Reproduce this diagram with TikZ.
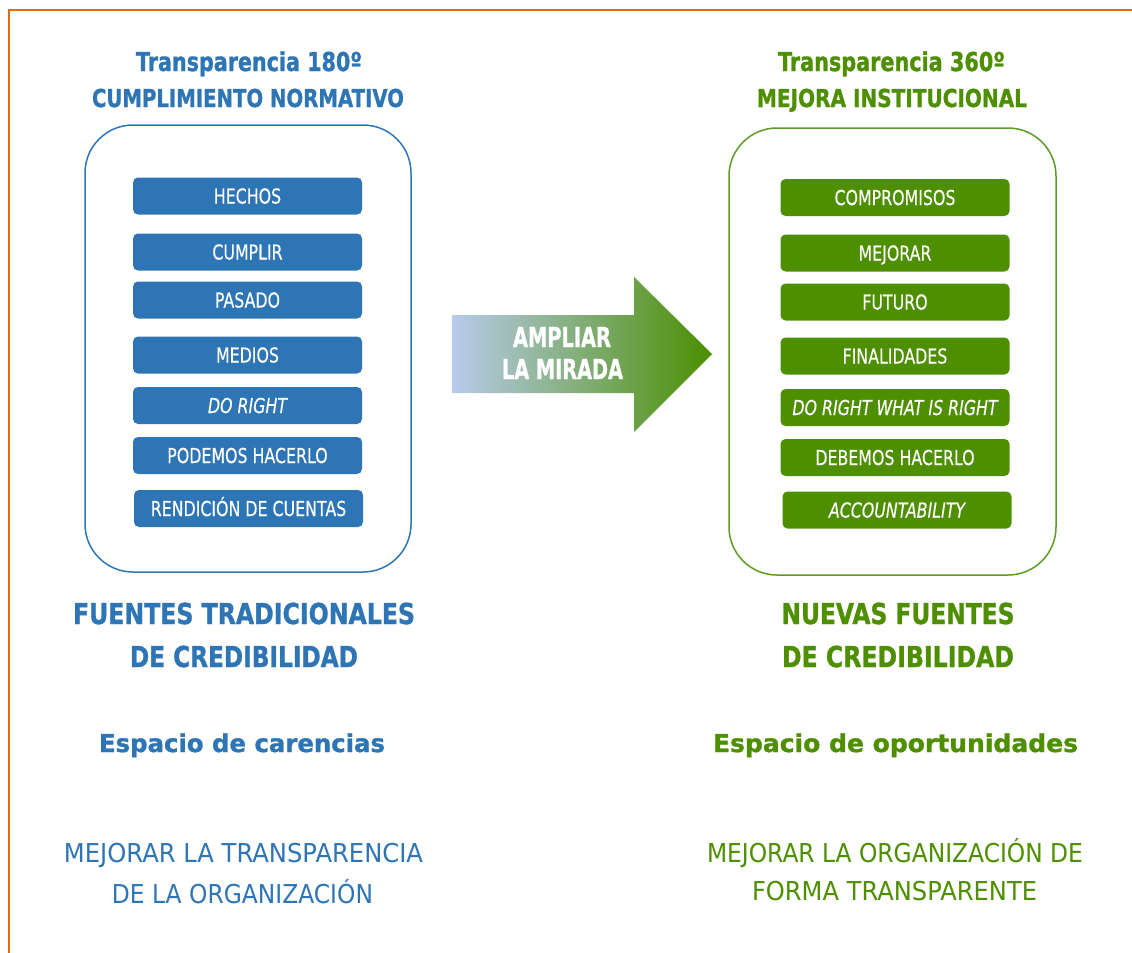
\documentclass[tikz,border=0pt]{standalone}
\usepackage{fontspec}
\setmainfont{DejaVu Sans}[BoldFeatures={FakeBold=1.2}]
\newfontfamily\boxfont{DejaVu Sans}[FakeBold=0.4]
\usepackage{graphicx}
\newdimen\px \px=0.75pt
\definecolor{cblue}{HTML}{2E75B6}
\definecolor{cgreen}{HTML}{4E8F00}
\definecolor{cgreenline}{HTML}{5E9B26}
\definecolor{corange}{HTML}{E36C09}
\definecolor{arrL}{HTML}{B8CBEC}
\definecolor{arrM}{HTML}{82A98A}
\definecolor{arrR}{HTML}{4A8F00}
\newcommand{\fw}[3]{\resizebox{#1\px}{\height}{\fontsize{#2}{#2}\selectfont #3}}
\newcommand{\bxt}[1]{\scalebox{0.77}[1]{\boxfont\fontsize{15.4}{16}\selectfont #1}}
\tikzset{
  itembox/.style={rounded corners=5\px, minimum width=229\px, minimum height=37\px,
    inner sep=0pt, text height=11.25pt, text depth=0pt, text=white},
  bluebox/.style={itembox, fill=cblue},
  greenbox/.style={itembox, fill=cgreen},
  panel/.style={rounded corners=48\px, line width=1.5\px},
  txt/.style={anchor=base, inner sep=0pt}
}
\begin{document}
\begin{tikzpicture}[x=0.75pt,y=-0.75pt]
\useasboundingbox (0,0) rectangle (1132,953);
\fill[white] (0,0) rectangle (1132,953);
% frame
\draw[corange, line width=2.6\px] (9,953) -- (9,10) -- (1132,10);

% titles
\node[txt, text=cblue] (t1a) at (249,71) {\fw{226}{19.5}{\bfseries Transparencia 180º}};
\node[txt, text=cblue] (t1b) at (248,107) {\fw{312}{18.5}{\bfseries CUMPLIMIENTO NORMATIVO}};
\node[txt, text=cgreen] (t2a) at (891.5,71) {\fw{227}{19.5}{\bfseries Transparencia 360º}};
\node[txt, text=cgreen] (t2b) at (892,107) {\fw{270}{18.5}{\bfseries MEJORA INSTITUCIONAL}};

% panels
\draw[panel, cblue] (85,125) rectangle (411,572);
\draw[panel, cgreenline] (729,128) rectangle (1056,575);

% blue boxes
\node[bluebox] (b1) at (247.5,196) {\bxt{HECHOS}};
\node[bluebox] (b2) at (247.5,252) {\bxt{CUMPLIR}};
\node[bluebox] (b3) at (247.5,300) {\bxt{PASADO}};
\node[bluebox] (b4) at (247.5,355) {\bxt{MEDIOS}};
\node[bluebox] (b5) at (247.5,405.5) {\bxt{\itshape DO RIGHT}};
\node[bluebox] (b6) at (247.5,455.5) {\bxt{PODEMOS HACERLO}};
\node[bluebox] (b7) at (248.5,508.5) {\bxt{RENDICIÓN DE CUENTAS}};

% green boxes
\node[greenbox] (g1) at (895,197.5) {\bxt{COMPROMISOS}};
\node[greenbox] (g2) at (895,253) {\bxt{MEJORAR}};
\node[greenbox] (g3) at (895,302) {\bxt{FUTURO}};
\node[greenbox] (g4) at (895,356) {\bxt{FINALIDADES}};
\node[greenbox] (g5) at (895,407.5) {\bxt{\itshape DO RIGHT WHAT IS RIGHT}};
\node[greenbox] (g6) at (895,457.5) {\bxt{DEBEMOS HACERLO}};
\node[greenbox] (g7) at (897,510) {\bxt{\itshape ACCOUNTABILITY}};

% arrow
\shade[left color=arrL, middle color=arrM, right color=arrR]
  (452,315) -- (634,315) -- (634,277) -- (712,354) -- (634,432) -- (634,393) -- (452,393) -- cycle;
\node[txt, text=white] (a1) at (562,347) {\fw{98}{20.6}{\bfseries AMPLIAR}};
\node[txt, text=white] (a2) at (562.5,379) {\fw{121}{20.6}{\bfseries LA MIRADA}};

% sources
\node[txt, text=cblue] (f1a) at (244,624) {\fw{342}{21.6}{\bfseries FUENTES TRADICIONALES}};
\node[txt, text=cblue] (f1b) at (244,667) {\fw{228}{21.6}{\bfseries DE CREDIBILIDAD}};
\node[txt, text=cgreen] (f2a) at (898,624) {\fw{233}{21.6}{\bfseries NUEVAS FUENTES}};
\node[txt, text=cgreen] (f2b) at (898,667) {\fw{232}{21.6}{\bfseries DE CREDIBILIDAD}};

% spaces
\node[txt, text=cblue] (e1) at (242,752) {\fw{286}{18.5}{\bfseries Espacio de carencias}};
\node[txt, text=cgreen] (e2) at (895.5,752) {\fw{365}{18.5}{\bfseries Espacio de oportunidades}};

% bottom
\node[txt, text=cblue] (m1a) at (243.5,862) {\fw{359}{19.5}{MEJORAR LA TRANSPARENCIA}};
\node[txt, text=cblue] (m1b) at (242.5,903) {\fw{261}{19.5}{DE LA ORGANIZACIÓN}};
\node[txt, text=cgreen] (m2a) at (895,862) {\fw{376}{19.5}{MEJORAR LA ORGANIZACIÓN DE}};
\node[txt, text=cgreen] (m2b) at (894.5,900) {\fw{285}{19.5}{FORMA TRANSPARENTE}};
\end{tikzpicture}
\end{document}
